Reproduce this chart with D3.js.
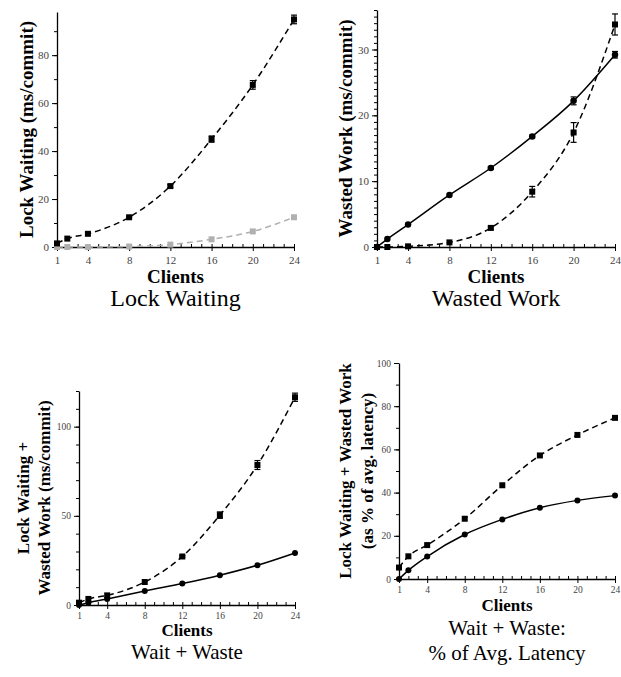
<!DOCTYPE html>
<html>
<head>
<meta charset="utf-8">
<script src="https://d3js.org/d3.v7.min.js"></script>
<style>
  body { margin: 0; background: #fff; }
  svg { display: block; font-family: "Liberation Serif", "Times New Roman", serif; }
</style>
</head>
<body>
<svg id="drawing_region" width="621" height="677"></svg>
<script>
// data
const clients = [1, 2, 4, 8, 12, 16, 20, 24];
const xTickLabels = [1, 4, 8, 12, 16, 20, 24];

// Lock Waiting
const lockWaitBlack    = [1.5, 3.5, 5.5, 12.4, 25.4, 45.0, 67.6, 94.9];
const lockWaitBlackErr = [0, 0, 0, 0.3, 0.6, 1.3, 1.8, 1.8];
const lockWaitGray     = [0, 0, 0, 0.2, 1.0, 3.2, 6.5, 12.4];
const lockWaitTicks    = [0, 20, 40, 60, 80];

// Wasted Work
const wastedSolid     = [0, 1.2, 3.4, 7.9, 12.0, 16.8, 22.2, 29.2];
const wastedSolidErr  = [0, 0, 0, 0, 0.2, 0.2, 0.6, 0.5];
const wastedDashed    = [0, 0, 0.1, 0.7, 2.9, 8.4, 17.4, 33.8];
const wastedDashedErr = [0, 0, 0, 0, 0.2, 0.8, 1.5, 1.6];
const wastedTicks     = [0, 10, 20, 30];

// Wait + Waste
const totalDashed    = [1.3, 3.4, 5.4, 12.9, 27.2, 50.4, 78.5, 116.5];
const totalDashedErr = [0, 0, 0, 0, 0.5, 1.8, 2.5, 2.3];
const totalSolid     = [0, 1.3, 3.4, 7.9, 12.0, 16.7, 22.3, 29.2];
const totalTicks     = [0, 50, 100];

// Wait + Waste as % of latency
const pctDashed = [5.3, 10.5, 15.7, 27.9, 43.4, 57.2, 66.7, 74.6];
const pctSolid  = [0, 4.0, 10.4, 20.6, 27.6, 33.0, 36.4, 38.6];
const pctTicks  = [0, 20, 40, 60, 80, 100];

const GRAY = "#b0b0b0";

function makeSeries(values, errs, opts) {
    return Object.assign({
        points: clients.map((c, i) => ({ x: c, y: values[i], e: errs ? errs[i] : 0 }))
    }, opts);
}

class Panel {
    constructor(config, series) {
        this.config = config;
        this.series = series;
        this.init();
        this.render();
    }

    init() {
        let self = this;
        const c = self.config;
        self.svg = d3.select('#drawing_region');
        self.g = self.svg.append('g');

        self.xscale = d3.scaleLinear().domain([1, 24]).range([c.left, c.right]);
        self.yscale = d3.scaleLinear().domain([0, c.ymax]).range([c.bottom, c.top]);

        // minor x ticks (inward)
        self.g.append('g')
            .attr('transform', `translate(0, ${c.bottom})`)
            .call(d3.axisBottom(self.xscale).tickValues(d3.range(1, 25)).tickSize(-3).tickFormat(''))
            .call(g => g.select('.domain').remove());
        // major x ticks
        self.g.append('g')
            .attr('class', 'xaxis')
            .attr('transform', `translate(0, ${c.bottom})`)
            .call(d3.axisBottom(self.xscale).tickValues(xTickLabels).tickSize(4).tickSizeOuter(0).tickPadding(c.xpad));

        // minor y ticks
        self.g.append('g')
            .attr('transform', `translate(${c.left}, 0)`)
            .call(d3.axisLeft(self.yscale).tickValues(d3.range(0, c.ymax + 0.001, c.minor)).tickSize(3).tickFormat(''))
            .call(g => g.select('.domain').remove());
        // major y ticks
        self.g.append('g')
            .attr('class', 'yaxis')
            .attr('transform', `translate(${c.left}, 0)`)
            .call(d3.axisLeft(self.yscale).tickValues(c.yticks).tickSize(5).tickSizeOuter(0).tickPadding(3));

        self.g.selectAll('.domain').attr('stroke', '#000').attr('stroke-width', 1.3);
        self.g.selectAll('.tick line').attr('stroke', '#000').attr('stroke-width', 1);
        self.g.selectAll('.tick text')
            .attr('font-family', '"Liberation Serif", serif')
            .attr('font-size', c.tickFont)
            .attr('fill', '#444');

        const cx = (c.left + c.right) / 2;
        const cy = (c.top + c.bottom) / 2;

        // y axis title (one or two lines)
        c.ylabel.forEach((line, i) => {
            self.g.append('text')
                .attr('transform', `translate(${c.ylabelX[i]}, ${cy}) rotate(-90)`)
                .attr('text-anchor', 'middle')
                .attr('dominant-baseline', 'central')
                .attr('font-weight', 'bold')
                .attr('font-size', c.labelFont)
                .text(line);
        });

        self.g.append('text')
            .attr('x', cx)
            .attr('y', c.clientsY)
            .attr('text-anchor', 'middle')
            .attr('font-weight', 'bold')
            .attr('font-size', c.clientsFont)
            .text('Clients');

        c.title.forEach((line, i) => {
            self.g.append('text')
                .attr('x', cx)
                .attr('y', c.titleY[i])
                .attr('text-anchor', 'middle')
                .attr('font-size', c.titleFont)
                .text(line);
        });
    }

    render() {
        let self = this;
        const line = d3.line()
            .x(d => self.xscale(d.x))
            .y(d => self.yscale(d.y))
            .curve(d3.curveMonotoneX);

        self.series.forEach(s => {
            const sg = self.g.append('g');
            sg.append('path')
                .datum(s.points)
                .attr('d', line)
                .attr('fill', 'none')
                .attr('stroke', s.color)
                .attr('stroke-width', 1.5)
                .attr('stroke-dasharray', s.dashed ? '6,4' : null);

            const eb = s.points.filter(d => d.e > 0);
            sg.selectAll('line.err')
                .data(eb)
                .join('line')
                .attr('x1', d => self.xscale(d.x))
                .attr('x2', d => self.xscale(d.x))
                .attr('y1', d => self.yscale(d.y - d.e))
                .attr('y2', d => self.yscale(d.y + d.e))
                .attr('stroke', s.color).attr('stroke-width', 1.2);
            [-1, 1].forEach(k => {
                sg.selectAll(null)
                    .data(eb)
                    .join('line')
                    .attr('x1', d => self.xscale(d.x) - 3)
                    .attr('x2', d => self.xscale(d.x) + 3)
                    .attr('y1', d => self.yscale(d.y + k * d.e))
                    .attr('y2', d => self.yscale(d.y + k * d.e))
                    .attr('stroke', s.color).attr('stroke-width', 1.2);
            });

            if (s.marker === 'square') {
                sg.selectAll('rect')
                    .data(s.points)
                    .join('rect')
                    .attr('x', d => self.xscale(d.x) - s.size / 2)
                    .attr('y', d => self.yscale(d.y) - s.size / 2)
                    .attr('width', s.size)
                    .attr('height', s.size)
                    .attr('fill', s.color);
            } else {
                sg.selectAll('circle')
                    .data(s.points)
                    .join('circle')
                    .attr('cx', d => self.xscale(d.x))
                    .attr('cy', d => self.yscale(d.y))
                    .attr('r', s.size / 2)
                    .attr('fill', s.color);
            }
        });
    }
}

new Panel({
    left: 57, right: 294, top: 12, bottom: 247, ymax: 98, yticks: lockWaitTicks, minor: 10,
    xpad: 5, tickFont: '11px', labelFont: '19px', clientsFont: '19px', titleFont: '24px',
    ylabel: ['Lock Waiting (ms/commit)'], ylabelX: [26],
    clientsY: 283, title: ['Lock Waiting'], titleY: [306]
}, [
    makeSeries(lockWaitGray, null, { color: GRAY, dashed: true, marker: 'square', size: 6 }),
    makeSeries(lockWaitBlack, lockWaitBlackErr, { color: '#000', dashed: true, marker: 'square', size: 6 })
]);

new Panel({
    left: 377, right: 615, top: 10, bottom: 247, ymax: 36, yticks: wastedTicks, minor: 1,
    xpad: 5, tickFont: '11px', labelFont: '19px', clientsFont: '19px', titleFont: '24px',
    ylabel: ['Wasted Work (ms/commit)'], ylabelX: [345],
    clientsY: 283, title: ['Wasted Work'], titleY: [306]
}, [
    makeSeries(wastedSolid, wastedSolidErr, { color: '#000', dashed: false, marker: 'circle', size: 6.5 }),
    makeSeries(wastedDashed, wastedDashedErr, { color: '#000', dashed: true, marker: 'square', size: 6 })
]);

new Panel({
    left: 79, right: 295, top: 391, bottom: 605, ymax: 120, yticks: totalTicks, minor: 10,
    xpad: 3, tickFont: '9.5px', labelFont: '17px', clientsFont: '17px', titleFont: '21px',
    ylabel: ['Lock Waiting +', 'Wasted Work (ms/commit)'], ylabelX: [23, 44],
    clientsY: 636, title: ['Wait + Waste'], titleY: [659]
}, [
    makeSeries(totalSolid, null, { color: '#000', dashed: false, marker: 'circle', size: 6 }),
    makeSeries(totalDashed, totalDashedErr, { color: '#000', dashed: true, marker: 'square', size: 6 })
]);

new Panel({
    left: 399, right: 615, top: 363, bottom: 579, ymax: 100, yticks: pctTicks, minor: 10,
    xpad: 3, tickFont: '9.5px', labelFont: '17px', clientsFont: '17px', titleFont: '21px',
    ylabel: ['Lock Waiting + Wasted Work', '(as % of avg. latency)'], ylabelX: [345, 367],
    clientsY: 611, title: ['Wait + Waste:', '% of Avg. Latency'], titleY: [635, 660]
}, [
    makeSeries(pctSolid, null, { color: '#000', dashed: false, marker: 'circle', size: 6 }),
    makeSeries(pctDashed, null, { color: '#000', dashed: true, marker: 'square', size: 6 })
]);
</script>
</body>
</html>
